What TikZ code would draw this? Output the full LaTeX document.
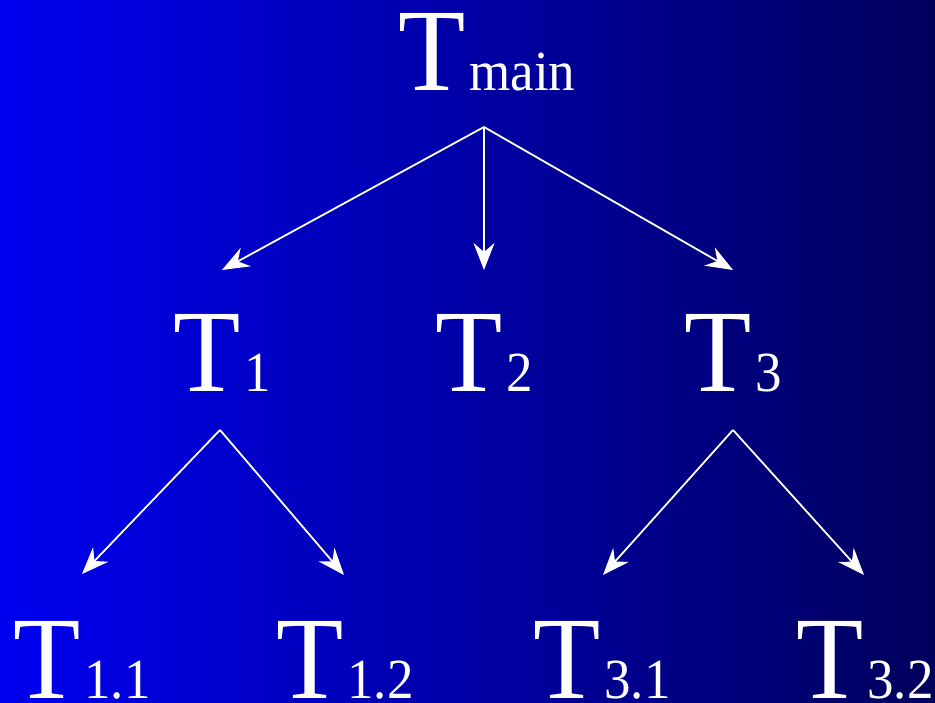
\documentclass[tikz,border=0pt]{standalone}
\usepackage{fontspec}
\setmainfont{Liberation Serif}
\usetikzlibrary{arrows.meta}
\definecolor{bgleft}{RGB}{0,0,240}
\definecolor{bgright}{RGB}{0,0,92}
\newcommand{\bigT}[1]{\scalebox{1}[1.07]{\fontsize{110}{110}\selectfont T\kern4pt\fontsize{53}{53}\selectfont #1}}
\begin{document}
\begin{tikzpicture}[x=1pt,y=1pt,
  lbl/.style={anchor=base west,inner sep=0pt,text=white},
  arr/.style={draw=white,line width=1.8pt,-{Stealth[length=27pt,width=21pt,inset=9pt]}}]
\useasboundingbox (0,0) rectangle (935,702);
\shade[left color=bgleft,right color=bgright] (0,0) rectangle (935,702);
% nodes
\node[lbl] (main) at (398,611) {\bigT{main}};
\node[lbl] (t1) at (173,310) {\bigT{1}};
\node[lbl] (t2) at (435,310) {\bigT{2}};
\node[lbl] (t3) at (684,310) {\bigT{3}};
\node[lbl] (t11) at (13,4) {\bigT{1.1}};
\node[lbl] (t12) at (276,4) {\bigT{1.2}};
\node[lbl] (t31) at (533,4) {\bigT{3.1}};
\node[lbl] (t32) at (796,4) {\bigT{3.2}};
% connector ends
\coordinate (main-out) at (484,575);
\coordinate (t1-in) at (222,432);
\coordinate (t2-in) at (484,432);
\coordinate (t3-in) at (733,432);
\coordinate (t1-out) at (220,272);
\coordinate (t3-out) at (733,272);
\coordinate (t11-in) at (82,128);
\coordinate (t12-in) at (344,127);
\coordinate (t31-in) at (603,127);
\coordinate (t32-in) at (864,127);
% connectors
\draw[arr] (main-out) -- (t1-in);
\draw[arr] (main-out) -- (t2-in);
\draw[arr] (main-out) -- (t3-in);
\draw[arr] (t1-out) -- (t11-in);
\draw[arr] (t1-out) -- (t12-in);
\draw[arr] (t3-out) -- (t31-in);
\draw[arr] (t3-out) -- (t32-in);
\end{tikzpicture}
\end{document}
